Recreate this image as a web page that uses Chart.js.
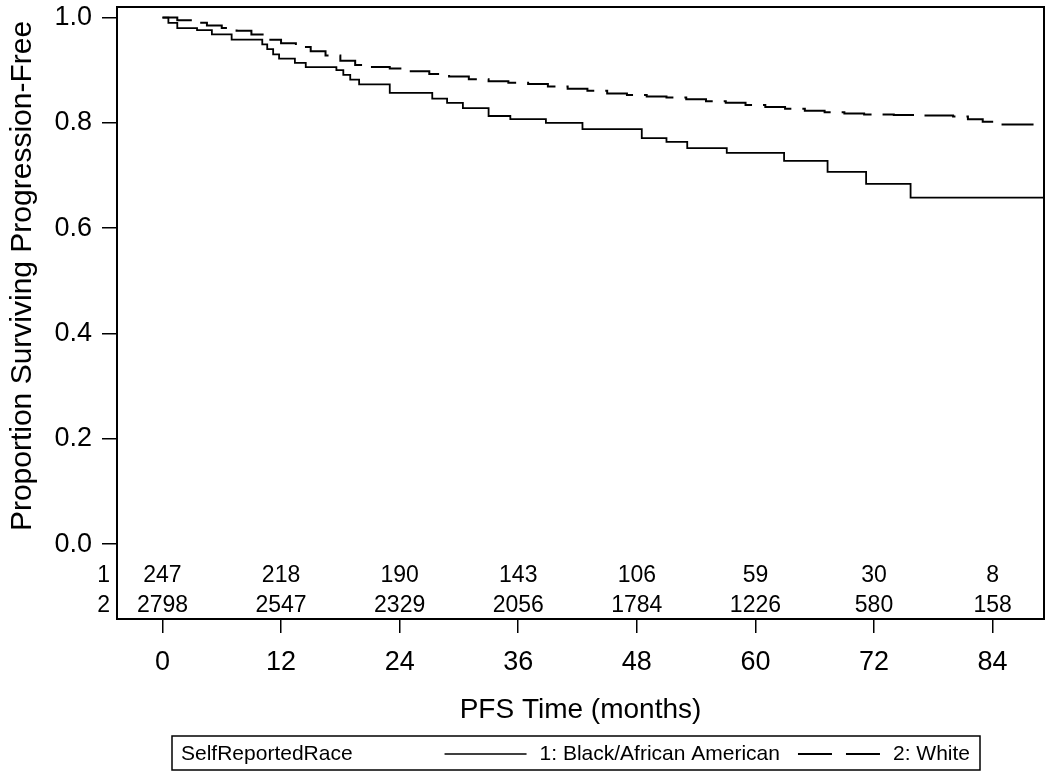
<!DOCTYPE html>
<html><head><meta charset="utf-8">
<script src="https://cdn.jsdelivr.net/npm/chart.js@4.4.1/dist/chart.umd.min.js"></script>
<style>html,body{margin:0;padding:0;background:#fff;} canvas{display:block;}</style>
</head><body>
<canvas id="c" width="1050" height="775"></canvas>
<script>
const legendTitle = 'SelfReportedRace';
const seriesNames = ['1: Black/African American', '2: White'];
const xTitle = 'PFS Time (months)';
const yTitle = 'Proportion Surviving Progression-Free';

const blackTimes = [0, 0.6, 1.5, 3.5, 5, 7, 10.1, 10.6, 11.2, 11.8, 13.4, 14.5, 17.6, 18.3, 19.0, 19.9, 23, 27.3, 28.8, 30.4, 33, 35.2, 38.8, 42.5, 48.5, 51, 53.1, 57.1, 62.9, 67.3, 71.2, 75.7, 89.2];
const blackSurv  = [1.0, 0.99, 0.98, 0.976, 0.968, 0.958, 0.949, 0.94, 0.93, 0.922, 0.914, 0.906, 0.900, 0.891, 0.882, 0.873, 0.857, 0.846, 0.838, 0.828, 0.813, 0.807, 0.800, 0.788, 0.771, 0.764, 0.752, 0.743, 0.728, 0.707, 0.684, 0.658, 0.658];

const whiteTimes = [0, 1.5, 3, 4.5, 6, 7.5, 9, 10.5, 12, 13.5, 15, 16.5, 18, 19.5, 21, 23, 25, 27, 29, 31, 33, 35, 37, 39, 41, 43, 45, 47, 49, 51, 53, 55, 57, 59, 61, 63, 65, 67, 69, 71, 74, 77, 80, 81.5, 83, 84.5, 89.2];
const whiteSurv  = [1.0, 0.995, 0.99, 0.985, 0.98, 0.975, 0.968, 0.958, 0.951, 0.944, 0.936, 0.928, 0.918, 0.91, 0.906, 0.903, 0.898, 0.893, 0.888, 0.883, 0.879, 0.876, 0.874, 0.869, 0.865, 0.861, 0.856, 0.853, 0.850, 0.848, 0.845, 0.841, 0.838, 0.834, 0.830, 0.827, 0.823, 0.820, 0.818, 0.816, 0.815, 0.814, 0.812, 0.807, 0.802, 0.797, 0.797];

const xTicks = [0, 12, 24, 36, 48, 60, 72, 84];
const yTicks = [0.0, 0.2, 0.4, 0.6, 0.8, 1.0];
const atRiskTimes = [0, 12, 24, 36, 48, 60, 72, 84];
const atRiskBlack = [247, 218, 190, 143, 106, 59, 30, 8];
const atRiskWhite = [2798, 2547, 2329, 2056, 1784, 1226, 580, 158];
const rowLabels = ['1', '2'];

const FONT = "'Liberation Sans', Arial, Helvetica, sans-serif";
Chart.defaults.font.family = FONT;
Chart.defaults.color = '#000';

const toPts = (ts, vs) => ts.map((t, i) => ({x: t, y: vs[i]}));

const framePlugin = {
  id: 'frame',
  afterDraw(chart) {
    const {ctx, chartArea: a} = chart;
    ctx.save();
    ctx.strokeStyle = '#000';
    ctx.lineWidth = 2;
    ctx.strokeRect(a.left, a.top, a.right - a.left, a.bottom - a.top);
    // y-axis title
    ctx.fillStyle = '#000';
    ctx.font = '30px ' + FONT;
    ctx.textAlign = 'center';
    ctx.textBaseline = 'middle';
    ctx.translate(23, 276);
    ctx.rotate(-Math.PI / 2);
    ctx.fillText(yTitle, 0, 0);
    ctx.restore();
  }
};

const atRiskPlugin = {
  id: 'atRisk',
  afterDraw(chart) {
    const {ctx, chartArea: a} = chart;
    const xs = chart.scales.x, ys = chart.scales.y;
    const rows = [atRiskBlack, atRiskWhite];
    const rowY = [ys.getPixelForValue(-0.059), ys.getPixelForValue(-0.117)];
    ctx.save();
    ctx.fillStyle = '#000';
    ctx.font = '23px ' + FONT;
    ctx.textBaseline = 'middle';
    rows.forEach((row, r) => {
      ctx.textAlign = 'center';
      row.forEach((n, i) => ctx.fillText(String(n), xs.getPixelForValue(atRiskTimes[i]), rowY[r]));
      ctx.textAlign = 'right';
      ctx.fillText(rowLabels[r], a.left - 7, rowY[r]);
    });
    ctx.restore();
  }
};

const legendPlugin = {
  id: 'kmLegend',
  afterDraw(chart) {
    const {ctx} = chart;
    const boxL = 172, boxR = 980, boxT = 736, boxB = 770;
    const cy = (boxT + boxB) / 2 + 1;
    ctx.save();
    ctx.strokeStyle = '#000';
    ctx.lineWidth = 1.5;
    ctx.strokeRect(boxL, boxT, boxR - boxL, boxB - boxT);
    ctx.fillStyle = '#000';
    ctx.font = '21px ' + FONT;
    ctx.textBaseline = 'middle';
    ctx.textAlign = 'left';
    ctx.fillText(legendTitle, boxL + 9, cy);
    const w2 = ctx.measureText(seriesNames[1]).width;
    const t2 = boxR - 10 - w2;
    ctx.fillText(seriesNames[1], t2, cy);
    const d2R = t2 - 13, d2L = d2R - 82;
    ctx.lineWidth = 2;
    ctx.setLineDash([34, 14]);
    ctx.beginPath(); ctx.moveTo(d2L, cy); ctx.lineTo(d2R, cy); ctx.stroke();
    ctx.setLineDash([]);
    const w1 = ctx.measureText(seriesNames[0]).width;
    const t1 = d2L - 18 - w1;
    ctx.fillText(seriesNames[0], t1, cy);
    ctx.lineWidth = 1.5;
    ctx.beginPath(); ctx.moveTo(t1 - 13 - 82, cy); ctx.lineTo(t1 - 13, cy); ctx.stroke();
    ctx.restore();
  }
};

new Chart(document.getElementById('c'), {
  type: 'line',
  data: {
    datasets: [
      {
        label: seriesNames[0],
        data: toPts(blackTimes, blackSurv),
        stepped: 'before',
        borderColor: '#000',
        borderWidth: 1.8,
        pointRadius: 0,
        fill: false
      },
      {
        label: seriesNames[1],
        data: toPts(whiteTimes, whiteSurv),
        stepped: 'before',
        borderColor: '#000',
        borderWidth: 2,
        borderDash: [32, 11],
        pointRadius: 0,
        fill: false
      }
    ]
  },
  options: {
    responsive: false,
    animation: false,
    devicePixelRatio: 1,
    layout: {padding: {top: 7, right: 6, left: 0, bottom: 0}},
    plugins: {legend: {display: false}, tooltip: {enabled: false}},
    scales: {
      x: {
        type: 'linear',
        min: -4.6,
        max: 89.2,
        afterBuildTicks: s => { s.ticks = xTicks.map(v => ({value: v})); },
        afterFit: s => { s.height = 156; s.paddingLeft = 0; s.paddingRight = 0; },
        grid: {display: true, drawOnChartArea: false, drawTicks: true, tickLength: 14, color: '#000', lineWidth: 1.5},
        border: {display: false},
        ticks: {font: {size: 27}, color: '#000', padding: 13, maxRotation: 0, callback: v => String(v)},
        title: {display: true, text: xTitle, font: {size: 28}, color: '#000', padding: {top: 0, bottom: 48}}
      },
      y: {
        type: 'linear',
        min: -0.142,
        max: 1.02,
        afterBuildTicks: s => { s.ticks = yTicks.map(v => ({value: v})); },
        afterFit: s => { s.width = 117; s.paddingTop = 0; s.paddingBottom = 0; },
        grid: {display: true, drawOnChartArea: false, drawTicks: true, tickLength: 15, color: '#000', lineWidth: 1.5},
        border: {display: false},
        ticks: {font: {size: 27}, color: '#000', padding: 10, callback: v => Number(v).toFixed(1)},
        title: {display: false}
      }
    }
  },
  plugins: [framePlugin, atRiskPlugin, legendPlugin]
});
</script>
</body></html>
